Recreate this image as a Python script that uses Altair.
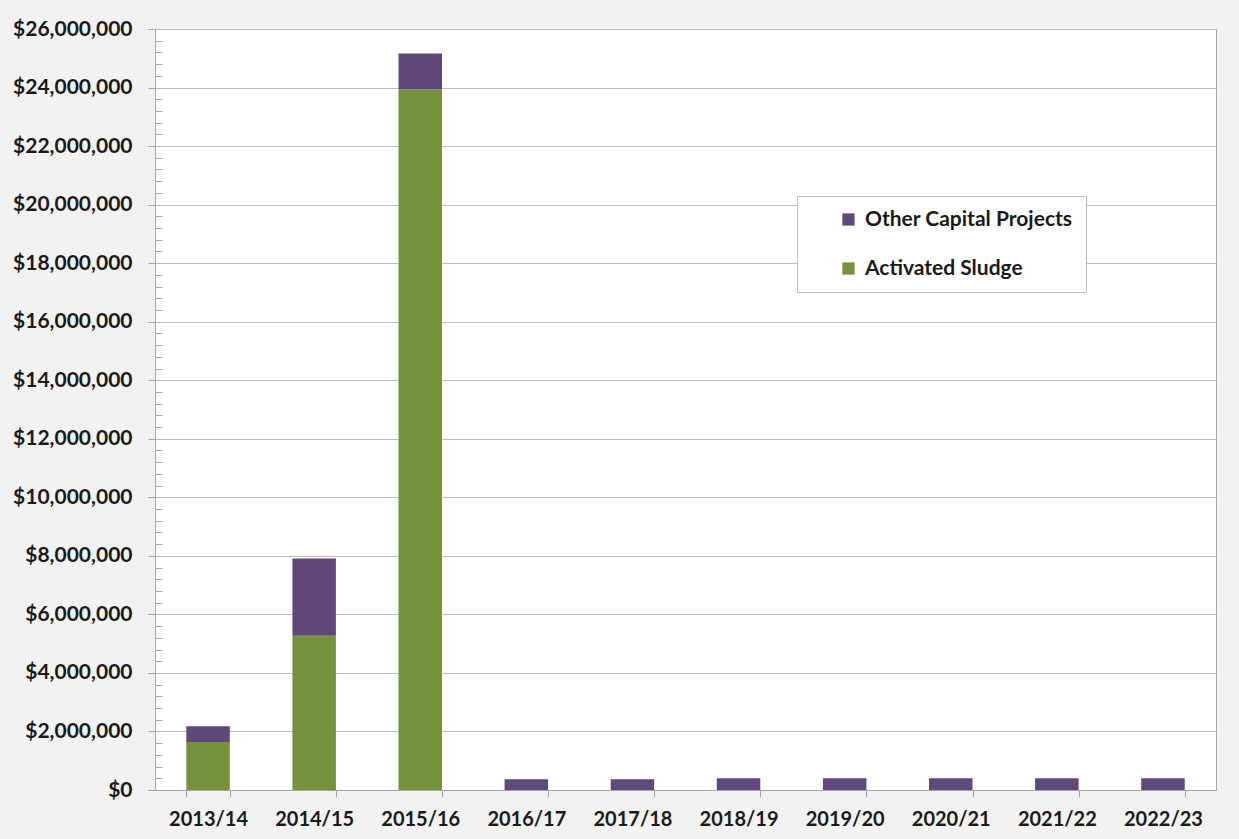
import altair as alt
import pandas as pd

years = ["2013/14", "2014/15", "2015/16", "2016/17", "2017/18",
         "2018/19", "2019/20", "2020/21", "2021/22", "2022/23"]
activated_sludge = [1640000, 5270000, 23930000, 0, 0, 0, 0, 0, 0, 0]
other_capital = [540000, 2640000, 1230000, 365000, 365000, 400000, 400000, 400000, 400000, 400000]

series_names = ["Other Capital Projects", "Activated Sludge"]
series_colors = ["#5f497a", "#76923c"]
major_ticks = list(range(0, 26000001, 2000000))
minor_ticks = [v for v in range(0, 26000001, 400000) if v % 2000000 != 0]

rows = []
for i, y in enumerate(years):
    rows.append({"year": y, "series": "Activated Sludge", "value": activated_sludge[i], "ord": 0})
    rows.append({"year": y, "series": "Other Capital Projects", "value": other_capital[i], "ord": 1})
df = pd.DataFrame(rows)

FONT = "Lato"
NBSP = "\u00a0" * 8

x_enc = alt.X("year:N", sort=years, title=None,
              scale=alt.Scale(paddingInner=0.59, paddingOuter=0.295),
              axis=alt.Axis(labelAngle=0, tickBand="extent", tickSize=7,
                            labelPadding=12, labelFont=FONT, labelFontSize=20,
                            labelFontWeight="bold", labelColor="#1a1a1a",
                            domainColor="#a6a6a6", tickColor="#a6a6a6", grid=False))

y_scale = alt.Scale(domain=[0, 26000000], nice=False)

bars = alt.Chart(df).mark_bar(stroke=None).encode(
    x=x_enc,
    y=alt.Y("value:Q", stack="zero", title=None, scale=y_scale,
            axis=alt.Axis(values=major_ticks, format="$,.0f", tickSize=7,
                          labelPadding=16, labelFont=FONT, labelFontSize=21,
                          labelFontWeight="bold", labelColor="#1a1a1a",
                          domainColor="#a6a6a6", tickColor="#a6a6a6",
                          gridColor="#bdbdbd", grid=True)),
    color=alt.Color("series:N",
                    scale=alt.Scale(domain=series_names, range=series_colors),
                    legend=alt.Legend(title=None, orient="none", legendX=642, legendY=167,
                                      fillColor="white", strokeColor="#bfbfbf",
                                      padding=13, symbolOffset=28, symbolType="square",
                                      symbolSize=150, symbolStrokeWidth=0,
                                      labelFont=FONT, labelFontSize=21, labelLimit=600,
                                      labelFontWeight="bold", labelColor="#1a1a1a",
                                      labelOffset=6, rowPadding=27,
                                      labelExpr="datum.label + '" + NBSP + "'")),
    order=alt.Order("ord:Q", sort="ascending"),
)

minor = alt.Chart(df).mark_bar(opacity=0).encode(
    x=x_enc,
    y=alt.Y("value:Q", stack="zero", scale=y_scale, title=None,
            axis=alt.Axis(orient="left", values=minor_ticks, labels=False, domain=False,
                          grid=False, tickSize=7, offset=-7, tickColor="#a6a6a6")),
)

chart = alt.layer(bars, minor).resolve_axis(y="independent").properties(
    width=1061, height=761,
    background="#f2f2f2",
    padding={"left": 155, "top": 29, "right": 23, "bottom": 49},
    autosize=alt.AutoSizeParams(type="none"),
).configure_view(stroke="#a6a6a6", fill="white")

chart.save("out.html", embed_options={"renderer": "svg", "actions": False})
